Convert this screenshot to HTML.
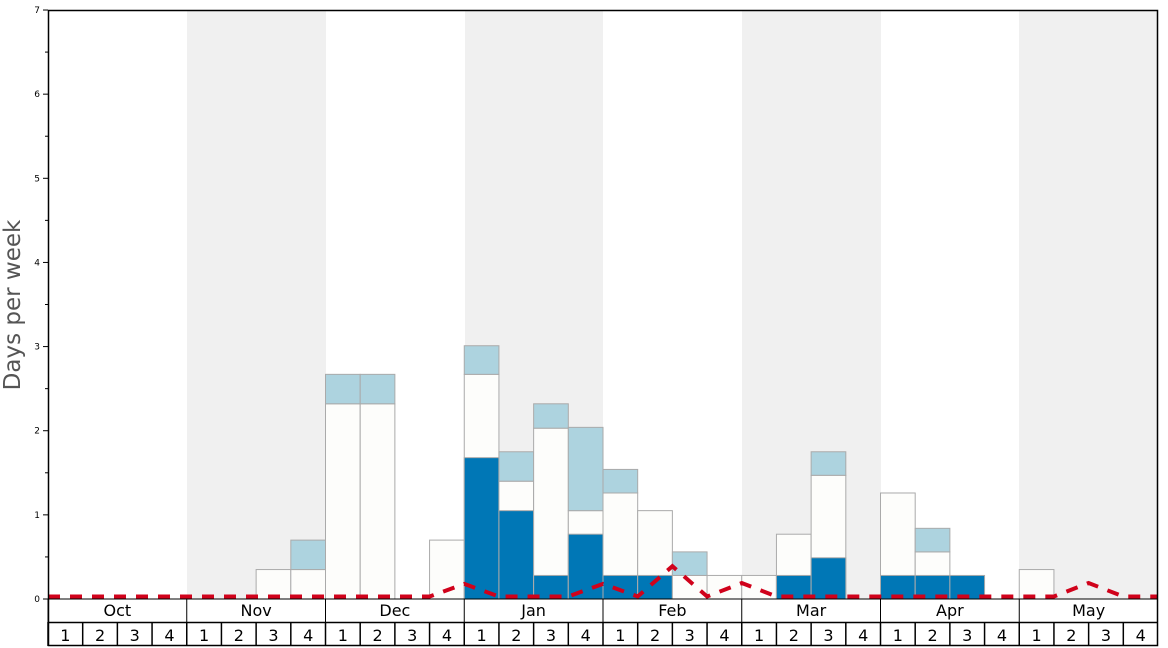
<!DOCTYPE html><html><head><style>body{margin:0;background:#fff}svg{display:block;font-family:"DejaVu Sans","Liberation Sans",sans-serif}</style></head><body>
<svg width="1168" height="648" viewBox="0 0 1168 648">
<rect width="1168" height="648" fill="#fff"/>
<g fill="#f0f0f0"><rect x="187" y="10" width="139" height="589"/><rect x="465" y="10" width="138" height="589"/><rect x="742" y="10" width="139" height="589"/><rect x="1019" y="10" width="139" height="589"/></g>
<g stroke="#aaa" stroke-width="1" id="bars"></g>
<polyline id="red" fill="none" stroke="#d0021b" stroke-width="4" stroke-dasharray="12,10"/>
<rect x="48.5" y="10.5" width="1109" height="635" fill="none" stroke="#000" stroke-width="1.5"/>
<line x1="48" y1="599" x2="1158" y2="599" stroke="#000" stroke-width="1"/>
<line x1="48" y1="622.5" x2="1158" y2="622.5" stroke="#000" stroke-width="1.5"/>
<g id="axis" font-size="16" text-anchor="middle"></g>
<g id="yt" font-size="9" text-anchor="end"></g>
<text transform="translate(20,305) rotate(-90)" font-size="23" fill="#555" text-anchor="middle">Days per week</text>
</svg>
<script>
var ns="http://www.w3.org/2000/svg",X0=48,W=1110/32,Y0=599,U=84.14;
function el(p,t,a,txt){var e=document.createElementNS(ns,t);for(var k in a)e.setAttribute(k,a[k]);if(txt)e.textContent=txt;document.getElementById(p).appendChild(e);}
var y=v=>Y0-v*U;
// [week, dark, white top, light top]
var B=[[6,0,.35,0],[7,0,.35,.7],[8,0,2.32,2.67],[9,0,2.32,2.67],[11,0,.7,0],[12,1.68,2.67,3.01],[13,1.05,1.4,1.75],[14,.28,2.03,2.32],[15,.77,1.05,2.04],[16,.28,1.26,1.54],[17,.28,1.05,0],[18,0,.28,.56],[19,0,.28,0],[20,0,.28,0],[21,.28,.77,0],[22,.49,1.47,1.75],[24,.28,1.26,0],[25,.28,.56,.84],[26,.28,0,0],[28,0,.35,0]];
B.forEach(b=>{var x=X0+b[0]*W;
 if(b[2])el("bars","rect",{x:x,y:y(b[2]),width:W,height:b[2]*U,fill:"#fdfdfb"});
 if(b[1])el("bars","rect",{x:x,y:y(b[1]),width:W,height:b[1]*U,fill:"#0077b6"});
 if(b[3])el("bars","rect",{x:x,y:y(b[3]),width:W,height:(b[3]-Math.max(b[1],b[2]))*U,fill:"#add3df"});});
var pts=[],vals={12:.18,16:.18,18:.39,20:.19,30:.19};
for(var i=0;i<=32;i++){var v=vals[i]||.03;pts.push((X0+i*W).toFixed(1)+","+y(v).toFixed(1));}
document.getElementById("red").setAttribute("points",pts.join(" "));
var M=["Oct","Nov","Dec","Jan","Feb","Mar","Apr","May"];
M.forEach((m,j)=>{var x=X0+j*4*W;el("axis","line",{x1:x,y1:599,x2:x,y2:622,stroke:"#000"});el("axis","text",{x:x+2*W,y:616},m);
 for(var k=0;k<4;k++){var xx=x+k*W;el("axis","line",{x1:xx,y1:622,x2:xx,y2:646,stroke:"#000","stroke-width":1.5});el("axis","text",{x:xx+W/2,y:641},""+(k+1));}});
for(var i=0;i<=7;i++){el("yt","text",{x:40,y:y(i)+3},""+i);el("yt","line",{x1:43,y1:y(i),x2:48,y2:y(i),stroke:"#000"});if(i<7)el("yt","line",{x1:45,y1:y(i+.5),x2:48,y2:y(i+.5),stroke:"#000"});}
</script></body></html>
